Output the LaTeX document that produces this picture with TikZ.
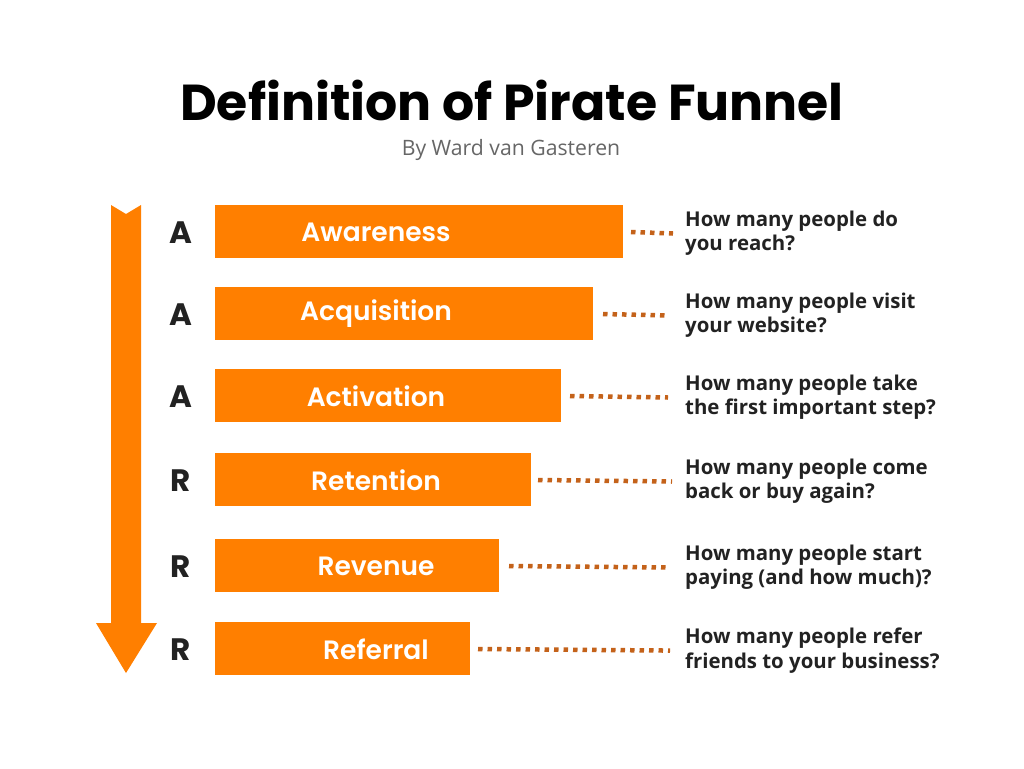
\documentclass[tikz,border=0pt]{standalone}
\usepackage{fontspec}
\newfontfamily\titlefont{Poppins}[UprightFont=* Bold]
\newfontfamily\subfont{Open Sans}
\newfontfamily\qfont{Open Sans}[UprightFont=* Bold,Ligatures=NoCommon]
\newfontfamily\barfont{Poppins}[UprightFont=* SemiBold]
\definecolor{funnel}{HTML}{FF7F00}
\definecolor{dots}{HTML}{C4621A}
\definecolor{qtext}{HTML}{222222}
\begin{document}
\begin{tikzpicture}[x=1pt,y=-1pt,
  bar/.style={fill=funnel,draw=none},
  barlabel/.style={text=white,font=\barfont\fontsize{26.5}{30}\selectfont,anchor=center},
  letter/.style={text=qtext,font=\titlefont\fontsize{31}{34}\selectfont,anchor=center},
  question/.style={text=qtext,font=\qfont\fontsize{20.4}{24.2}\selectfont,anchor=north west,align=left,inner sep=0pt},
  dotline/.style={draw=dots,line width=4.5pt,dash pattern=on 4.5pt off 5pt}]
\useasboundingbox[fill=white] (0,0) rectangle (1024,768);
\node[font=\titlefont\fontsize{50.5}{56}\selectfont,anchor=center] (title) at (512,100) {Definition of Pirate Funnel};
\node[font=\subfont\fontsize{21.2}{24}\selectfont,text=black!60,anchor=center] (sub) at (511,150) {By Ward van Gasteren};
% arrow
\fill[funnel] (111,205) -- (126,214) -- (141,205) -- (141,623) -- (157,623) -- (126,673) -- (96,623) -- (111,623) -- cycle;
% bars
\foreach \nm/\lab/\L/\xr/\yt/\qa/\qb in {
  aw/Awareness/A/623/205/{How many people do}/{you reach?},
  ac/Acquisition/A/593/287/{How many people visit}/{your website?},
  at/Activation/A/561/369/{How many people take}/{the first important step?},
  re/Retention/R/531/453/{How many people come}/{back or buy again?},
  rv/Revenue/R/499/539/{How many people start}/{paying (and how much)?},
  rf/Referral/R/470/622/{How many people refer}/{friends to your business?}}{
  \path[bar] (215,\yt) rectangle (\xr,\yt+53);
  \node[barlabel] (\nm-lab) at (376,\yt+27) {\lab};
  \node[letter] (\nm-let) at (181,\yt+28) {\L};
  \coordinate (\nm-e) at (\xr,\yt+27);
  \node[question] (\nm-q) at (685,\yt+6) {\qa\\\qb};
}
\draw[dotline] ([xshift=8pt]aw-e) -- ([xshift=-12pt]aw-q.west);
\draw[dotline] ([xshift=10pt]ac-e) -- ([xshift=-17pt]ac-q.west);
\draw[dotline] ([xshift=9pt]at-e) -- ([xshift=-17pt]at-q.west);
\draw[dotline] ([xshift=7pt]re-e) -- ([xshift=-13pt]re-q.west);
\draw[dotline] ([xshift=10pt]rv-e) -- ([xshift=-15pt]rv-q.west);
\draw[dotline] ([xshift=8pt]rf-e) -- ([xshift=-15pt]rf-q.west);
\end{tikzpicture}
\end{document}
